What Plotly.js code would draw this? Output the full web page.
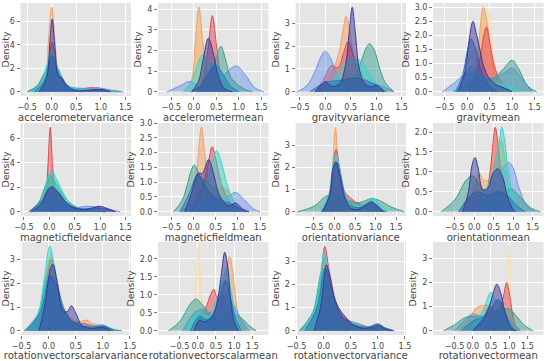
<!DOCTYPE html>
<html><head><meta charset="utf-8">
<script src="https://cdn.plot.ly/plotly-3.0.1.min.js"></script>
<style>html,body{margin:0;padding:0;background:#fff}#chart{width:550px;height:361px}</style>
</head><body><div id="chart"></div>
<script>
// ---- data: density curves, [x, density] knots per series ----
const panelNames = ['accelerometervariance','accelerometermean','gravityvariance','gravitymean',
  'magneticfieldvariance','magneticfieldmean','orientationvariance','orientationmean',
  'rotationvectorscalarvariance','rotationvectorscalarmean','rotationvectorvariance','rotationvectormean'];
const seriesOrder = ['beige','orange','red','cornflower','teal','cyan','blue','navy'];

const accelerometervariance = {
  orange: [[-0.35,0],[-0.15,0.5],[-0.07,4.2],[0,7.2],[0.07,4.2],[0.15,1.0],[0.25,0.45],[0.5,0.15],[0.8,0.1],[1.1,0.05],[1.3,0]],
  red: [[-0.3,0],[-0.12,1.0],[-0.05,3.0],[0.01,4.2],[0.08,2.6],[0.18,0.7],[0.35,0.3],[0.6,0.25],[0.8,0.35],[1.0,0.3],[1.2,0.05],[1.3,0]],
  cornflower: [[-0.5,0],[-0.3,0.4],[-0.12,1.5],[0,2.2],[0.15,1.3],[0.35,0.45],[0.6,0.3],[0.85,0.3],[1.0,0.3],[1.2,0.15],[1.45,0]],
  teal: [[-0.5,0],[-0.3,0.5],[-0.15,1.6],[-0.02,2.6],[0.1,2.2],[0.25,0.9],[0.4,0.35],[0.7,0.2],[1.0,0.15],[1.4,0]],
  cyan: [[-0.4,0],[-0.2,0.8],[-0.08,2.6],[0.01,3.6],[0.1,2.4],[0.22,1.0],[0.35,0.45],[0.6,0.2],[1.0,0.1],[1.3,0]],
  blue: [[-0.35,0],[-0.15,0.9],[-0.05,2.5],[0.02,3.1],[0.1,2.0],[0.2,1.1],[0.3,0.6],[0.45,0.2],[0.7,0.1],[1.0,0.12],[1.2,0]],
  navy: [[-0.25,0],[-0.1,1.2],[-0.04,4.0],[0.01,6.2],[0.07,3.6],[0.14,1.3],[0.21,1.2],[0.3,0.5],[0.45,0.1],[0.8,0.15],[1.0,0.2],[1.2,0]]
};
const accelerometermean = {
  beige: [[-0.15,0],[-0.02,0.9],[0.05,2.2],[0.13,3.1],[0.22,2.1],[0.32,0.8],[0.45,0.2],[0.6,0]],
  orange: [[-0.2,0],[-0.05,0.6],[0.03,2.4],[0.11,4.1],[0.2,2.4],[0.3,0.8],[0.42,0.3],[0.55,0.1],[0.7,0]],
  red: [[0.1,0],[0.22,0.7],[0.32,2.2],[0.41,3.7],[0.5,2.3],[0.6,0.8],[0.72,0.25],[0.9,0]],
  cornflower: [[-0.6,0],[-0.3,0.3],[-0.1,0.5],[0.1,0.3],[0.3,0.2],[0.55,0.5],[0.8,1.1],[0.95,1.25],[1.15,0.8],[1.35,0.2],[1.55,0]],
  teal: [[0.05,0],[0.25,0.5],[0.4,1.1],[0.5,1.7],[0.6,2.2],[0.7,1.6],[0.82,0.7],[1.0,0.3],[1.15,0.1],[1.3,0]],
  cyan: [[-0.25,0],[-0.05,0.5],[0.08,1.3],[0.2,1.8],[0.33,1.4],[0.48,1.3],[0.62,0.9],[0.78,0.3],[1.0,0]],
  blue: [[-0.05,0],[0.15,0.3],[0.32,0.9],[0.48,1.3],[0.62,0.95],[0.8,0.3],[1.0,0]],
  navy: [[-0.05,0],[0.1,0.5],[0.2,1.5],[0.32,2.6],[0.44,1.8],[0.55,0.7],[0.68,0.15],[0.85,0]]
};
const gravityvariance = {
  orange: [[-0.1,0],[0.05,0.5],[0.18,1.1],[0.28,1.8],[0.35,2.7],[0.41,3.3],[0.48,2.7],[0.56,1.6],[0.68,0.9],[0.85,0.4],[1.0,0.15],[1.15,0]],
  red: [[-0.2,0],[-0.02,0.6],[0.12,1.15],[0.25,1.05],[0.36,1.7],[0.45,2.2],[0.54,1.7],[0.65,0.8],[0.8,0.3],[1.0,0.1],[1.15,0]],
  cornflower: [[-0.55,0],[-0.35,0.3],[-0.2,0.9],[-0.08,1.55],[0,1.77],[0.1,1.5],[0.22,0.8],[0.35,0.45],[0.55,0.35],[0.75,0.3],[0.95,0.35],[1.1,0.25],[1.35,0]],
  teal: [[-0.2,0],[0,0.2],[0.2,0.4],[0.4,0.5],[0.58,0.7],[0.7,1.3],[0.8,1.9],[0.87,2.1],[0.96,1.85],[1.06,1.1],[1.18,0.4],[1.35,0]],
  cyan: [[-0.1,0],[0.12,0.35],[0.3,1.0],[0.45,1.4],[0.6,1.43],[0.72,1.3],[0.85,0.9],[1.0,0.35],[1.2,0]],
  blue: [[-0.3,0],[0,0.4],[0.3,0.5],[0.6,0.6],[0.9,0.4],[1.2,0]],
  navy: [[-0.2,0],[-0.08,0.3],[0.01,0.45],[0.12,0.25],[0.28,0.35],[0.4,1.2],[0.47,2.6],[0.53,3.7],[0.59,2.6],[0.67,1.0],[0.78,0.35],[0.9,0.22],[1.0,0.3],[1.15,0]]
};
const gravitymean = {
  beige: [[0.05,0],[0.2,0.7],[0.3,2.0],[0.37,2.85],[0.42,2.7],[0.47,2.95],[0.55,1.9],[0.65,0.7],[0.8,0.15],[0.95,0]],
  orange: [[0,0],[0.15,0.5],[0.26,1.8],[0.36,3.0],[0.45,2.4],[0.55,1.1],[0.68,0.35],[0.9,0]],
  red: [[0.05,0],[0.2,0.6],[0.3,1.3],[0.37,2.0],[0.43,2.3],[0.5,1.8],[0.58,1.1],[0.7,0.5],[0.85,0.2],[1.0,0]],
  cornflower: [[-0.55,0],[-0.3,0.3],[0,0.65],[0.3,0.55],[0.6,0.5],[0.85,0.7],[1.0,0.85],[1.2,0.5],[1.45,0]],
  teal: [[-0.3,0],[0,0.3],[0.3,0.45],[0.55,0.45],[0.8,0.8],[1.0,1.12],[1.15,0.8],[1.35,0.2],[1.55,0]],
  cyan: [[-0.3,0],[-0.1,0.4],[0.08,0.9],[0.25,0.6],[0.5,0.35],[0.8,0.25],[1.0,0.15],[1.2,0]],
  blue: [[-0.25,0],[-0.1,0.6],[0,1.4],[0.08,1.88],[0.17,1.6],[0.3,0.8],[0.45,0.3],[0.65,0]],
  navy: [[-0.2,0],[-0.05,0.7],[0.05,1.9],[0.13,2.5],[0.2,2.1],[0.27,1.6],[0.37,0.9],[0.5,0.45],[0.65,0.25],[0.8,0.15],[1.0,0]]
};
const magneticfieldvariance = {
  orange: [[-0.35,0],[-0.15,0.8],[-0.05,2.4],[0.03,3.1],[0.12,2.1],[0.25,1.0],[0.4,0.5],[0.6,0.2],[0.9,0.05],[1.1,0]],
  red: [[-0.2,0],[-0.09,0.6],[-0.03,3.5],[0.02,6.9],[0.07,3.5],[0.14,1.2],[0.25,0.6],[0.4,0.25],[0.6,0.1],[0.9,0.1],[1.1,0]],
  cornflower: [[-0.4,0],[-0.15,0.6],[0,1.2],[0.25,0.6],[0.5,0.3],[0.7,0.45],[0.9,0.4],[1.05,0.3],[1.4,0]],
  teal: [[-0.4,0],[-0.2,0.8],[-0.07,2.2],[0.03,2.9],[0.15,2.2],[0.3,1.2],[0.45,0.6],[0.65,0.2],[0.9,0.1],[1.1,0]],
  cyan: [[-0.35,0],[-0.15,0.9],[-0.05,2.5],[0.05,3.3],[0.15,2.6],[0.28,1.5],[0.45,0.5],[0.7,0.15],[1.0,0]],
  blue: [[-0.4,0],[-0.15,0.9],[0,1.95],[0.15,1.6],[0.35,0.6],[0.6,0.25],[0.9,0.3],[1.05,0.25],[1.3,0]],
  navy: [[-0.35,0],[-0.15,0.7],[-0.03,1.7],[0.05,2.05],[0.18,1.6],[0.35,0.7],[0.55,0.25],[0.75,0.2],[0.88,0.35],[1.0,0.45],[1.12,0.3],[1.3,0]]
};
const magneticfieldmean = {
  orange: [[-0.1,0],[0.02,0.5],[0.1,1.8],[0.18,2.86],[0.26,1.9],[0.35,1.0],[0.48,0.7],[0.62,0.8],[0.76,0.75],[0.9,0.35],[1.05,0]],
  red: [[-0.05,0],[0.12,0.5],[0.25,1.1],[0.34,1.7],[0.42,2.2],[0.5,1.8],[0.6,1.1],[0.75,0.5],[0.9,0.2],[1.05,0.05],[1.15,0]],
  cornflower: [[-0.3,0],[0,0.3],[0.3,0.45],[0.6,0.4],[0.8,0.55],[0.95,0.65],[1.15,0.4],[1.35,0.1],[1.5,0]],
  teal: [[-0.45,0],[-0.25,0.4],[-0.05,1.4],[0.02,1.58],[0.15,1.2],[0.3,1.0],[0.5,0.8],[0.65,0.4],[0.85,0.1],[1.0,0]],
  cyan: [[0,0],[0.15,0.3],[0.3,1.0],[0.43,1.7],[0.52,2.06],[0.62,1.7],[0.75,0.95],[0.9,0.35],[1.05,0]],
  blue: [[-0.3,0],[-0.1,0.6],[0.1,1.25],[0.25,0.9],[0.4,0.6],[0.6,0.4],[0.8,0.3],[1.0,0.15],[1.2,0]],
  navy: [[-0.2,0],[-0.05,0.6],[0.1,1.3],[0.2,1.3],[0.34,1.77],[0.45,1.3],[0.6,0.5],[0.8,0.2],[0.95,0.3],[1.1,0.1],[1.25,0]]
};
const orientationvariance = {
  orange: [[-0.25,0],[-0.1,0.6],[-0.04,2.2],[0.02,3.8],[0.08,2.3],[0.16,1.0],[0.28,0.5],[0.45,0.3],[0.7,0.15],[0.95,0.25],[1.15,0]],
  red: [[-0.3,0],[-0.12,0.7],[-0.03,2.2],[0.04,2.8],[0.13,1.9],[0.25,0.9],[0.4,0.6],[0.55,0.4],[0.75,0.3],[0.95,0.35],[1.15,0]],
  teal: [[-0.9,0],[-0.5,0.25],[-0.2,0.7],[0.05,0.8],[0.3,0.55],[0.55,0.4],[0.75,0.5],[0.9,0.6],[1.1,0.5],[1.4,0.2],[1.7,0]],
  cyan: [[-0.35,0],[-0.15,0.7],[-0.04,2.1],[0.04,2.6],[0.14,1.8],[0.28,0.7],[0.45,0.3],[0.65,0.3],[0.85,0.55],[0.95,0.6],[1.1,0.3],[1.3,0]],
  blue: [[-0.3,0],[-0.12,0.8],[-0.02,2.0],[0.06,2.2],[0.16,1.5],[0.3,0.5],[0.5,0.2],[0.75,0.25],[0.92,0.4],[1.1,0.1],[1.25,0]],
  navy: [[-0.3,0],[-0.12,0.7],[-0.04,1.9],[0.03,2.25],[0.12,1.7],[0.25,0.6],[0.4,0.15],[0.6,0.12],[0.78,0.35],[0.9,0.45],[1.02,0.3],[1.2,0]]
};
const orientationmean = {
  beige: [[0.1,0],[0.3,0.5],[0.45,1.3],[0.6,1.9],[0.72,1.6],[0.85,0.7],[1.0,0.15],[1.1,0]],
  orange: [[-0.2,0],[0,0.6],[0.13,0.96],[0.25,0.8],[0.4,0.8],[0.55,1.3],[0.7,1.8],[0.82,1.0],[0.95,0.3],[1.1,0]],
  red: [[0.1,0],[0.3,0.4],[0.42,1.1],[0.48,1.7],[0.54,2.12],[0.61,1.7],[0.7,0.9],[0.82,0.35],[0.95,0.1],[1.05,0]],
  cornflower: [[-0.4,0],[-0.15,0.3],[0.1,0.4],[0.35,0.5],[0.6,0.9],[0.88,1.24],[1.0,1.1],[1.15,0.6],[1.35,0.15],[1.55,0]],
  teal: [[-0.85,0],[-0.5,0.3],[-0.2,0.8],[-0.04,0.9],[0.2,0.6],[0.45,0.4],[0.7,0.45],[0.95,0.58],[1.15,0.4],[1.45,0.1],[1.7,0]],
  cyan: [[0.1,0],[0.3,0.5],[0.48,1.0],[0.58,1.4],[0.65,1.8],[0.71,2.12],[0.78,1.8],[0.88,1.0],[1.0,0.35],[1.15,0]],
  blue: [[-0.4,0],[-0.1,0.4],[0.1,0.5],[0.35,0.4],[0.6,0.5],[0.85,0.4],[1.1,0.15],[1.3,0]],
  navy: [[-0.3,0],[-0.15,0.5],[-0.06,1.15],[0.02,1.36],[0.1,1.1],[0.22,0.55],[0.35,0.6],[0.48,0.95],[0.6,1.08],[0.72,0.9],[0.85,0.4],[1.0,0.05],[1.05,0]]
};
const rotationvectorscalarvariance = {
  orange: [[-0.35,0],[-0.15,0.8],[-0.05,2.3],[0.04,3.2],[0.14,2.3],[0.28,1.0],[0.45,0.45],[0.6,0.4],[0.7,0.45],[0.82,0.3],[1.0,0.2],[1.2,0]],
  red: [[-0.3,0],[-0.12,0.8],[-0.03,2.3],[0.05,3.0],[0.15,2.0],[0.3,0.8],[0.45,0.35],[0.65,0.3],[0.9,0.15],[1.1,0]],
  cornflower: [[-0.45,0],[-0.2,0.6],[0.02,2.4],[0.15,1.6],[0.35,0.5],[0.6,0.3],[0.85,0.2],[1.0,0.25],[1.15,0.1],[1.3,0]],
  teal: [[-0.45,0],[-0.2,0.7],[0,2.3],[0.12,2.0],[0.3,0.7],[0.55,0.25],[0.8,0.15],[1.0,0.2],[1.2,0.05],[1.35,0]],
  cyan: [[-0.4,0],[-0.2,0.7],[-0.08,2.2],[0.02,3.56],[0.12,2.5],[0.25,1.1],[0.4,0.4],[0.6,0.2],[0.9,0.1],[1.2,0]],
  blue: [[-0.4,0],[-0.15,0.8],[0.03,2.3],[0.15,1.9],[0.3,0.8],[0.5,0.3],[0.8,0.15],[1.0,0.2],[1.2,0]],
  navy: [[-0.18,0],[-0.06,1.2],[0.03,2.6],[0.08,2.8],[0.16,2.0],[0.26,0.85],[0.34,0.8],[0.42,1.05],[0.5,0.75],[0.62,0.2],[0.8,0.1],[1.0,0.15],[1.15,0]]
};
const rotationvectorscalarmean = {
  beige: [[-0.25,0],[-0.1,0.5],[-0.04,1.5],[0.02,2.35],[0.08,1.5],[0.16,0.7],[0.3,0.45],[0.5,0.35],[0.8,0.2],[1.0,0]],
  orange: [[-0.1,0],[0.1,0.4],[0.35,0.5],[0.55,0.6],[0.68,1.0],[0.78,1.6],[0.88,2.06],[0.96,1.6],[1.05,0.8],[1.15,0.25],[1.3,0]],
  red: [[-0.2,0],[0,0.4],[0.2,0.6],[0.35,1.0],[0.44,1.15],[0.55,0.9],[0.7,1.0],[0.82,0.7],[0.95,0.3],[1.1,0]],
  cornflower: [[-0.4,0],[-0.1,0.5],[0.15,0.6],[0.35,0.5],[0.55,0.7],[0.8,1.0],[1.0,0.7],[1.2,0.3],[1.4,0]],
  teal: [[-0.8,0],[-0.5,0.25],[-0.2,0.75],[-0.05,0.88],[0.15,0.7],[0.35,0.45],[0.6,0.35],[0.85,0.4],[1.0,0.45],[1.2,0.35],[1.4,0.15],[1.6,0]],
  cyan: [[-0.3,0],[-0.1,0.4],[0.1,0.5],[0.3,0.4],[0.5,0.8],[0.7,1.5],[0.8,1.75],[0.9,1.2],[1.05,0.4],[1.2,0]],
  blue: [[-0.2,0],[0.05,0.4],[0.25,0.3],[0.45,0.5],[0.62,1.0],[0.76,1.4],[0.9,0.9],[1.05,0.3],[1.2,0]],
  navy: [[-0.1,0],[0.05,0.3],[0.2,0.25],[0.4,0.4],[0.55,0.9],[0.65,1.6],[0.74,2.18],[0.82,1.8],[0.9,0.9],[1.0,0.25],[1.12,0]]
};
const rotationvectorvariance = {
  orange: [[-0.35,0],[-0.15,0.8],[-0.05,2.3],[0.03,3.2],[0.12,2.4],[0.25,1.1],[0.4,0.55],[0.55,0.35],[0.75,0.2],[0.95,0.1],[1.1,0]],
  red: [[-0.28,0],[-0.12,0.9],[-0.04,2.5],[0.02,3.65],[0.1,2.6],[0.2,1.4],[0.35,0.6],[0.5,0.4],[0.65,0.3],[0.85,0.12],[1.0,0]],
  cornflower: [[-0.45,0],[-0.2,0.6],[0,2.2],[0.15,1.5],[0.35,0.55],[0.55,0.3],[0.8,0.15],[1.0,0.2],[1.3,0]],
  teal: [[-0.45,0],[-0.2,0.8],[-0.02,2.6],[0.12,2.0],[0.3,0.7],[0.5,0.35],[0.75,0.15],[1.0,0.2],[1.15,0.05],[1.3,0]],
  cyan: [[-0.4,0],[-0.18,0.8],[-0.06,2.4],[0.01,3.4],[0.1,2.5],[0.22,1.0],[0.4,0.4],[0.58,0.35],[0.8,0.1],[1.0,0]],
  blue: [[-0.35,0],[-0.12,1.0],[0.03,2.7],[0.15,1.8],[0.3,0.7],[0.5,0.3],[0.8,0.15],[1.0,0.3],[1.15,0.1],[1.3,0]],
  navy: [[-0.18,0],[-0.06,1.0],[0.01,2.3],[0.05,2.85],[0.12,2.3],[0.2,1.4],[0.3,0.9],[0.4,0.6],[0.55,0.25],[0.75,0.1],[0.9,0.15],[1.0,0.25],[1.12,0.1],[1.25,0]]
};
const rotationvectormean = {
  beige: [[0.8,0],[0.9,0.3],[0.95,1.3],[1.0,3.5],[1.05,1.3],[1.1,0.3],[1.2,0]],
  orange: [[-0.35,0],[-0.1,0.5],[0.1,0.95],[0.3,1.05],[0.5,1.0],[0.6,0.8],[0.75,0.5],[0.9,0.3],[1.05,0.1],[1.2,0]],
  red: [[0,0],[0.15,0.3],[0.3,0.6],[0.45,1.0],[0.6,0.8],[0.75,1.0],[0.85,1.5],[0.93,2.0],[1.0,1.6],[1.08,0.8],[1.18,0.2],[1.3,0]],
  cornflower: [[-0.5,0],[-0.25,0.4],[0,0.7],[0.2,0.6],[0.45,0.6],[0.7,0.8],[0.9,0.6],[1.1,0.3],[1.3,0]],
  teal: [[-0.8,0],[-0.5,0.25],[-0.2,0.55],[0.1,0.6],[0.35,0.6],[0.6,0.7],[0.85,0.9],[1.0,0.9],[1.2,0.6],[1.4,0.25],[1.65,0]],
  cyan: [[-0.1,0],[0.1,0.4],[0.3,0.9],[0.45,1.5],[0.5,1.6],[0.6,1.3],[0.75,1.1],[0.9,0.6],[1.05,0.15],[1.2,0]],
  blue: [[-0.3,0],[0,0.4],[0.3,0.6],[0.55,1.0],[0.7,1.3],[0.85,0.9],[1.0,0.35],[1.15,0]],
  navy: [[0,0],[0.12,0.2],[0.3,0.5],[0.45,1.0],[0.55,1.5],[0.66,1.93],[0.76,1.6],[0.88,0.8],[1.0,0.25],[1.1,0.05],[1.2,0]]
};
const xTicks = [-0.5, 0, 0.5, 1.0, 1.5];
const yTickSteps = [2, 1, 1, 0.5, 2, 0.5, 1, 0.5, 1, 0.5, 1, 1];

// ---- styling / layout ----
const panelData = [accelerometervariance, accelerometermean, gravityvariance, gravitymean,
  magneticfieldvariance, magneticfieldmean, orientationvariance, orientationmean,
  rotationvectorscalarvariance, rotationvectorscalarmean, rotationvectorvariance, rotationvectormean];
const colors = {beige:'245,222,179', orange:'244,160,96', red:'228,70,78', cornflower:'110,150,232',
  teal:'58,157,143', cyan:'48,213,205', blue:'42,120,184', navy:'58,58,152'};
const xRanges = [[-0.635,1.615],[-0.8,1.66],[-0.585,1.587],[-0.76,1.7],[-0.566,1.61],[-0.8,1.69],
  [-0.95,1.74],[-1.06,1.78],[-0.52,1.52],[-1.09,1.94],[-0.52,1.52],[-1.09,1.94]];
const lefts = [20.5, 158, 295.5, 433], W = 110.5;
const tops = [3, 123, 242], H = 93;
const FW = 550, FH = 361;

const traces = [];
const layout = {
  width: FW, height: FH, margin: {l:0, r:0, t:0, b:0},
  paper_bgcolor: '#ffffff', plot_bgcolor: '#e5e5e5', showlegend: false,
  font: {family: 'DejaVu Sans, sans-serif', color: '#444', size: 8}
};
panelData.forEach((pd, i) => {
  const sfx = i === 0 ? '' : String(i + 1);
  let ymax = 0;
  seriesOrder.forEach(s => {
    const pts = pd[s];
    if (!pts) return;
    const xs = pts.map(p => p[0]), ys = pts.map(p => p[1]);
    ymax = Math.max(ymax, ...ys);
    traces.push({
      type: 'scatter', mode: 'lines', x: xs, y: ys,
      xaxis: 'x' + sfx, yaxis: 'y' + sfx,
      line: {shape: 'spline', smoothing: 1, width: 1, color: 'rgb(' + colors[s] + ')'},
      fill: 'tozeroy', fillcolor: 'rgba(' + colors[s] + ',0.5)', hoverinfo: 'skip'
    });
  });
  const col = i % 4, row = Math.floor(i / 4);
  const l = lefts[col], t = tops[row];
  const step = yTickSteps[i];
  layout['xaxis' + sfx] = {
    domain: [l / FW, (l + W) / FW], anchor: 'y' + sfx, range: xRanges[i],
    tickvals: xTicks, tickformat: '.1f', showgrid: true, gridcolor: '#ffffff', gridwidth: 1,
    zeroline: false, showline: false, ticks: 'outside', ticklen: 3, tickcolor: '#555', tickwidth: 0.8,
    tickfont: {size: 8, color: '#444'},
    title: {text: panelNames[i], font: {size: 10, color: '#444'}, standoff: 3}
  };
  layout['yaxis' + sfx] = {
    domain: [1 - (t + H) / FH, 1 - t / FH], anchor: 'x' + sfx, range: [-0.05 * ymax, 1.05 * ymax],
    dtick: step, tick0: 0, tickformat: step < 1 ? '.1f' : 'd', showgrid: true, gridcolor: '#ffffff', gridwidth: 1,
    zeroline: false, showline: false, ticks: 'outside', ticklen: 3, tickcolor: '#555', tickwidth: 0.8,
    tickfont: {size: 8, color: '#444'},
    title: {text: 'Density', font: {size: 9.5, color: '#444'}, standoff: 3}
  };
});
Plotly.newPlot('chart', traces, layout, {staticPlot: true, displayModeBar: false});
</script></body></html>
